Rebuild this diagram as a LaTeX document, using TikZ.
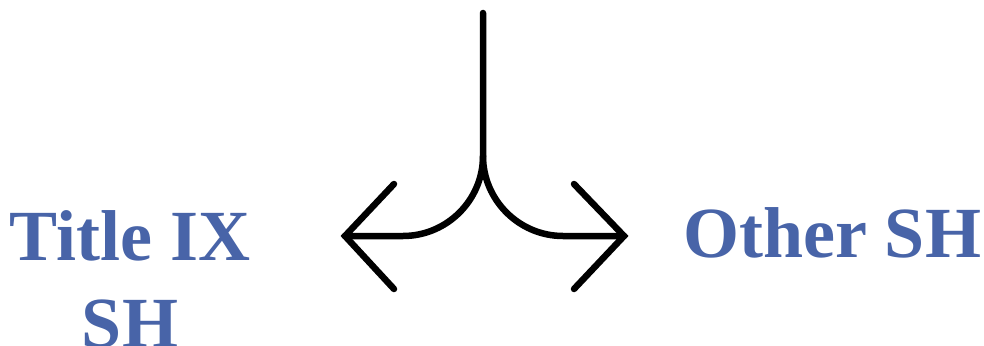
\documentclass[tikz,border=0pt]{standalone}
\usepackage{fontspec}
\setmainfont{Liberation Serif}
\definecolor{tblue}{RGB}{72,100,168}
\begin{document}
\begin{tikzpicture}[x=1pt,y=-1pt, line width=6.5pt, line cap=round, line join=miter,
  lbl/.style={text=tblue, font=\bfseries\fontsize{72}{87}\selectfont, inner sep=0pt, align=center}]
\useasboundingbox (0,0) rectangle (984,345);
\coordinate (top) at (483,13);
\coordinate (split) at (483,156);
\coordinate (lbend) at (403,236);
\coordinate (rbend) at (563,236);
\coordinate (ltip) at (345,236);
\coordinate (rtip) at (624,236);
\coordinate (la) at (394,184);
\coordinate (lb) at (394,289);
\coordinate (ra) at (574,184);
\coordinate (rb) at (574,289);
\draw (top) -- (split) .. controls (483,200) and (447,236) .. (lbend) -- (ltip);
\draw (split) .. controls (483,200) and (519,236) .. (rbend) -- (rtip);
\draw (la) -- (ltip) -- (lb);
\draw (ra) -- (rtip) -- (rb);
\node[lbl, anchor=north] (t9) at (130,207) {Title IX\\SH};
\node[lbl, anchor=base] (oth) at (832,257) {Other SH};
\end{tikzpicture}
\end{document}
